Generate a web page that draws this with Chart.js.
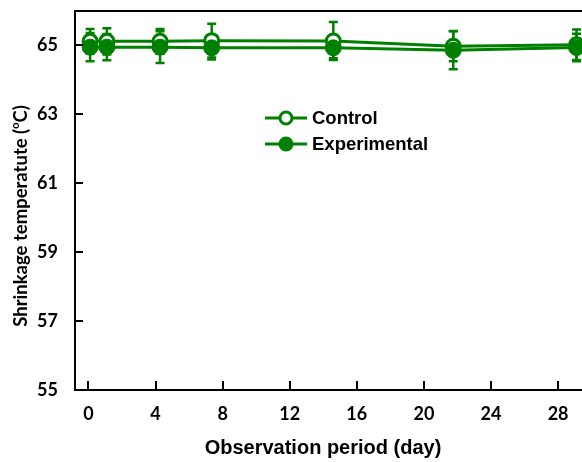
<!DOCTYPE html>
<html>
<head>
<meta charset="utf-8">
<script src="https://cdn.jsdelivr.net/npm/chart.js@4.4.1/dist/chart.umd.min.js"></script>
<style>
  html, body { margin: 0; padding: 0; background: #fff; overflow: hidden; }
  #wrap { width: 582px; height: 462px; overflow: hidden; }
</style>
</head>
<body>
<div id="wrap"><canvas id="shrinkChart" width="610" height="462"></canvas></div>
<script>
// Observation days as placed on the plot, and shrinkage temperatures
const observationDays = [0.1, 1.1, 4.27, 7.35, 14.6, 21.75, 29.1];
const controlTemp = [65.12, 65.12, 65.12, 65.14, 65.13, 64.98, 65.02];
const controlErr = [0.36, 0.38, 0.36, 0.49, 0.55, 0.44, 0.44];
const experimentalTemp = [64.95, 64.95, 64.95, 64.93, 64.93, 64.86, 64.94];
const experimentalErr = [0.41, 0.38, 0.46, 0.34, 0.3, 0.55, 0.4];

const xTicks = [0, 4, 8, 12, 16, 20, 24, 28];
const yTicks = [55, 57, 59, 61, 63, 65];

const green = '#008000';

function toPoints(xs, ys) {
    return xs.map((x, i) => ({ x: x, y: ys[i] }));
}

// Error bars with caps, drawn under the markers
const errorBars = {
    id: 'errorBars',
    beforeDatasetsDraw(chart) {
        const { ctx, scales: { x, y } } = chart;
        const sets = [[controlTemp, controlErr], [experimentalTemp, experimentalErr]];
        ctx.save();
        ctx.strokeStyle = green;
        ctx.lineWidth = 2.5;
        sets.forEach(([vals, errs]) => {
            vals.forEach((v, i) => {
                const px = x.getPixelForValue(observationDays[i]);
                const top = y.getPixelForValue(v + errs[i]);
                const bot = y.getPixelForValue(v - errs[i]);
                ctx.beginPath();
                ctx.moveTo(px, top); ctx.lineTo(px, bot);
                ctx.moveTo(px - 4.5, top); ctx.lineTo(px + 4.5, top);
                ctx.moveTo(px - 4.5, bot); ctx.lineTo(px + 4.5, bot);
                ctx.stroke();
            });
        });
        ctx.restore();
    }
};

// Inward ticks, top frame line, titles and legend
const decorations = {
    id: 'decorations',
    afterDraw(chart) {
        const { ctx, chartArea: area, scales: { x, y } } = chart;
        ctx.save();
        ctx.strokeStyle = '#000';
        ctx.lineWidth = 2;
        ctx.beginPath();
        ctx.moveTo(area.left - 1, area.top);
        ctx.lineTo(area.right, area.top);
        yTicks.forEach(v => {
            const py = Math.round(y.getPixelForValue(v));
            ctx.moveTo(area.left, py); ctx.lineTo(area.left + 8, py);
        });
        xTicks.forEach(v => {
            const px = Math.round(x.getPixelForValue(v));
            ctx.moveTo(px, area.bottom); ctx.lineTo(px, area.bottom - 9);
        });
        ctx.stroke();

        // x title
        ctx.fillStyle = '#000';
        ctx.font = 'bold 20px "Liberation Sans", Arial, sans-serif';
        ctx.textAlign = 'center';
        ctx.textBaseline = 'middle';
        ctx.fillText('Observation period (day)', 323, 448);

        // y title with superscript o
        ctx.save();
        ctx.translate(21, 216);
        ctx.rotate(-Math.PI / 2);
        const main = 'bold 18.5px Lato, sans-serif';
        const sup = 'bold 11px Lato, sans-serif';
        const a = 'Shrinkage temperatute (', b = 'o', c = 'C)';
        ctx.font = main;
        const wa = ctx.measureText(a).width, wc = ctx.measureText(c).width;
        ctx.font = sup;
        const wb = ctx.measureText(b).width;
        let sx = -(wa + wb + wc) / 2;
        ctx.textAlign = 'left';
        ctx.font = main;
        ctx.fillText(a, sx, 0);
        ctx.font = sup;
        ctx.fillText(b, sx + wa, -6);
        ctx.font = main;
        ctx.fillText(c, sx + wa + wb, 0);
        ctx.restore();

        // legend
        const entries = [
            { label: 'Control', y: 118, open: true },
            { label: 'Experimental', y: 144, open: false }
        ];
        ctx.font = 'bold 18.5px "Liberation Sans", Arial, sans-serif';
        ctx.textAlign = 'left';
        entries.forEach(e => {
            ctx.strokeStyle = green;
            ctx.lineWidth = 3;
            ctx.beginPath();
            ctx.moveTo(265, e.y); ctx.lineTo(307, e.y);
            ctx.stroke();
            ctx.beginPath();
            if (e.open) {
                ctx.arc(286, e.y, 6, 0, Math.PI * 2);
                ctx.fillStyle = '#fff';
                ctx.fill();
                ctx.stroke();
            } else {
                ctx.arc(286, e.y, 7.5, 0, Math.PI * 2);
                ctx.fillStyle = green;
                ctx.fill();
            }
            ctx.fillStyle = '#000';
            ctx.fillText(e.label, 312, e.y + 1);
        });
        ctx.restore();
    }
};

const ctx = document.getElementById('shrinkChart').getContext('2d');
new Chart(ctx, {
    type: 'line',
    data: {
        datasets: [{
            label: 'Control',
            data: toPoints(observationDays, controlTemp),
            borderColor: green,
            borderWidth: 3,
            pointRadius: 7,
            pointBorderWidth: 3,
            pointBorderColor: green,
            pointBackgroundColor: '#fff',
            tension: 0,
            order: 2
        }, {
            label: 'Experimental',
            data: toPoints(observationDays, experimentalTemp),
            borderColor: green,
            borderWidth: 3,
            pointRadius: 8,
            pointBorderWidth: 1,
            pointBorderColor: green,
            pointBackgroundColor: green,
            tension: 0,
            order: 1
        }]
    },
    options: {
        responsive: false,
        animation: false,
        layout: { padding: { top: 11, right: 10, left: 0, bottom: 0 } },
        plugins: {
            legend: { display: false },
            tooltip: { enabled: false }
        },
        scales: {
            x: {
                type: 'linear',
                min: -0.8,
                max: 30.5,
                afterBuildTicks: s => { s.ticks = xTicks.map(v => ({ value: v })); },
                afterFit: s => { s.height = 72; s.paddingLeft = 0; s.paddingRight = 0; },
                grid: { display: false },
                border: { display: true, color: '#000', width: 2 },
                ticks: {
                    color: '#000',
                    padding: 5,
                    maxRotation: 0,
                    font: { family: 'Lato', weight: 'bold', size: 18 }
                }
            },
            y: {
                min: 55,
                max: 66,
                afterBuildTicks: s => { s.ticks = yTicks.map(v => ({ value: v })); },
                afterFit: s => { s.width = 75; s.paddingTop = 0; s.paddingBottom = 0; },
                grid: { display: false },
                border: { display: true, color: '#000', width: 2 },
                ticks: {
                    color: '#000',
                    padding: 9,
                    font: { family: 'Lato', weight: 'bold', size: 18 }
                }
            }
        }
    },
    plugins: [errorBars, decorations]
});
</script>
</body>
</html>
